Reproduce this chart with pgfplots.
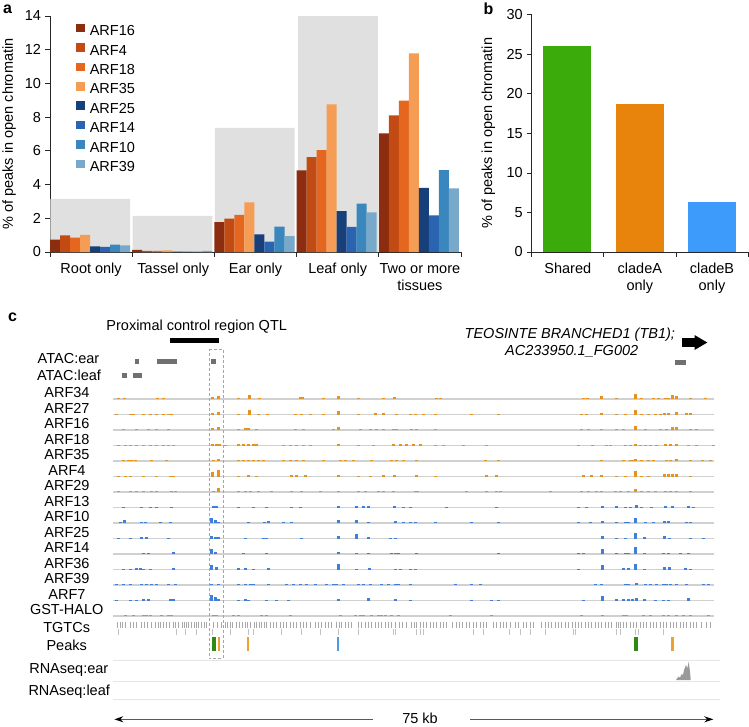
\documentclass[border=0pt]{standalone}
\usepackage{fontspec}
\setmainfont{Liberation Sans}
\usepackage{pgfplots}
\pgfplotsset{compat=1.18}
\usetikzlibrary{arrows.meta}

\definecolor{c16}{HTML}{8B2D0E}
\definecolor{c4}{HTML}{C24A13}
\definecolor{c18}{HTML}{E5661F}
\definecolor{c35}{HTML}{F59D54}
\definecolor{c25}{HTML}{173F7A}
\definecolor{c14}{HTML}{2A64B0}
\definecolor{c10}{HTML}{3A87BD}
\definecolor{c39}{HTML}{78A9CB}
\definecolor{bgbox}{HTML}{E0E0E0}
\definecolor{bshared}{HTML}{3BAA0B}
\definecolor{bclA}{HTML}{E8830C}
\definecolor{bclB}{HTML}{3D9BFC}
\definecolor{torange}{HTML}{E8921E}
\definecolor{tblue}{HTML}{3D7FD9}
\definecolor{tgrey}{HTML}{9A9A9A}
\definecolor{tline}{HTML}{D0D0D0}
\definecolor{sepline}{HTML}{E6E6E6}
\definecolor{tgtc}{HTML}{A8A8A8}
\definecolor{atac}{HTML}{707070}
\definecolor{pgreen}{HTML}{2E8A10}
\definecolor{porange}{HTML}{F0A030}
\definecolor{pblue}{HTML}{4A9BE8}

\newcommand{\fs}{\fontsize{14.5}{17}\selectfont}
\newcommand{\pl}{\fontsize{16}{16}\selectfont\bfseries}

\pgfplotsset{
  barpanel/.style={
    scale only axis,
    axis x line=bottom, axis y line=left,
    axis line style={-, black!85, line width=0.8pt},
    tick style={black!85, line width=0.8pt},
    major tick length=4.5pt, tick align=outside,
    ymin=0,
    x tick label as interval,
    tick label style={font=\fs},
    /pgf/number format/assume math mode=true,
    xticklabel style={align=center, yshift=-3pt},
    yticklabel style={xshift=-1pt},
  },
  trk/.style={forget plot, draw=none, line width=3pt,
    error bars/.cd, y dir=minus, y explicit, error mark=none,
    error bar style={line width=3pt, draw=#1}},
}

\begin{document}
\begin{tikzpicture}
\useasboundingbox (0pt,0pt) rectangle (749pt,-726pt);

% ---------------- panel a ----------------
\begin{axis}[barpanel,
  at={(50pt,-252pt)}, anchor=south west,
  width=411pt, height=236pt,
  xmin=0, xmax=5, ymax=14,
  ytick={0,2,...,14},
  xtick={0,1,2,3,4,5},
  xticklabels={Root only, Tassel only, Ear only, Leaf only, Two or more\\tissues},
  ylabel={\% of peaks in open chromatin},
  every axis y label/.style={at={(axis description cs:-0.0905,0.5)}, rotate=90, anchor=base, font=\fs},
  legend style={draw=none, fill=none, at={(axis cs:0.316,13.55)}, anchor=north west,
    font=\fs, inner sep=0pt, row sep=5.9pt, column sep=5pt, nodes={inner sep=0pt, anchor=base west}},
  legend cell align=left,
  legend image code/.code={\fill[#1] (0pt,3.4pt) rectangle (8.6pt,12pt);},
]
\addplot[ybar, bar width=0.97, bar shift=0pt, fill=bgbox, draw=none, forget plot]
  coordinates {(0.489,3.15) (1.489,2.14) (2.492,7.36) (3.504,14)};

\addplot[ybar, bar width=0.1218, bar shift=0pt, fill=c16, draw=none]
  coordinates {(0.061,0.73) (1.061,0.12) (2.061,1.77) (3.061,4.84) (4.061,7.03)};
\addplot[ybar, bar width=0.1218, bar shift=0pt, fill=c4, draw=none]
  coordinates {(0.183,0.99) (1.183,0.06) (2.183,1.98) (3.183,5.63) (4.183,8.11)};
\addplot[ybar, bar width=0.1218, bar shift=0pt, fill=c18, draw=none]
  coordinates {(0.305,0.85) (1.305,0.06) (2.305,2.21) (3.305,6.04) (4.305,8.98)};
\addplot[ybar, bar width=0.1218, bar shift=0pt, fill=c35, draw=none]
  coordinates {(0.426,1.01) (1.426,0.10) (2.426,2.95) (3.426,8.76) (4.426,11.79)};
\addplot[ybar, bar width=0.1218, bar shift=0pt, fill=c25, draw=none]
  coordinates {(0.548,0.34) (1.548,0.02) (2.548,1.04) (3.548,2.43) (4.548,3.80)};
\addplot[ybar, bar width=0.1218, bar shift=0pt, fill=c14, draw=none]
  coordinates {(0.670,0.31) (1.670,0.02) (2.670,0.62) (3.670,1.49) (4.670,2.18)};
\addplot[ybar, bar width=0.1218, bar shift=0pt, fill=c10, draw=none]
  coordinates {(0.792,0.44) (1.792,0.02) (2.792,1.51) (3.792,2.87) (4.792,4.85)};
\addplot[ybar, bar width=0.1218, bar shift=0pt, fill=c39, draw=none]
  coordinates {(0.914,0.40) (1.914,0.06) (2.914,0.94) (3.914,2.35) (4.914,3.78)};
\legend{ARF16, ARF4, ARF18, ARF35, ARF25, ARF14, ARF10, ARF39}
\end{axis}

% ---------------- panel b ----------------
\begin{axis}[barpanel,
  at={(531.7pt,-252pt)}, anchor=south west,
  width=216.3pt, height=237.3pt,
  xmin=0, xmax=3, ymax=30,
  ytick={0,5,...,30},
  xtick={0,1,2,3},
  xticklabels={Shared, cladeA\\only, cladeB\\only},
  ylabel={\% of peaks in open chromatin},
  every axis y label/.style={at={(axis description cs:-0.1826,0.5)}, rotate=90, anchor=base, font=\fs},
]
\addplot[ybar, bar width=0.674, bar shift=0pt, fill=bshared, draw=none] coordinates {(0.49,26.0)};
\addplot[ybar, bar width=0.674, bar shift=0pt, fill=bclA, draw=none] coordinates {(1.50,18.75)};
\addplot[ybar, bar width=0.674, bar shift=0pt, fill=bclB, draw=none] coordinates {(2.50,6.28)};
\end{axis}

% ---------------- panel c (pixel coordinates) ----------------
\begin{axis}[
  at={(0pt,0pt)}, anchor=north west,
  scale only axis, width=749pt, height=726pt,
  xmin=0, xmax=749, ymin=0, ymax=726, y dir=reverse,
  hide axis, clip=false,
]
% panel letters
\node[font=\pl, anchor=base west] at (axis cs:-0.5,13.3) {a};
\node[font=\pl, anchor=base west] at (axis cs:480,14) {b};
\node[font=\pl, anchor=base west] at (axis cs:4.5,321.7) {c};

% header texts
\node[font=\fs, anchor=base] at (axis cs:196.7,330) {Proximal control region QTL};
\node[font=\fs\itshape, anchor=base east] at (axis cs:678.5,338.3) {TEOSINTE BRANCHED1 (TB1);};
\node[font=\fs\itshape, anchor=base] at (axis cs:571.7,355) {AC233950.1\_FG002};

% QTL bar and gene arrow
\addplot[black, line width=5pt, forget plot] coordinates {(170,340.7) (219,340.7)};
\addplot[black, line width=9pt, -{Triangle[width=14pt,length=13pt]}, forget plot]
  coordinates {(682,342.5) (707.5,342.5)};

% track labels
\node[font=\fs, anchor=base] at (axis cs:68.5,363.5) {ATAC:ear};
\node[font=\fs, anchor=base] at (axis cs:69,380.2) {ATAC:leaf};
\node[font=\fs, anchor=base] at (axis cs:67,397.5) {ARF34};
\node[font=\fs, anchor=base] at (axis cs:67,413) {ARF27};
\node[font=\fs, anchor=base] at (axis cs:67,428.5) {ARF16};
\node[font=\fs, anchor=base] at (axis cs:67,444) {ARF18};
\node[font=\fs, anchor=base] at (axis cs:67,459.5) {ARF35};
\node[font=\fs, anchor=base] at (axis cs:67,475) {ARF4};
\node[font=\fs, anchor=base] at (axis cs:67,490.5) {ARF29};
\node[font=\fs, anchor=base] at (axis cs:67,506) {ARF13};
\node[font=\fs, anchor=base] at (axis cs:67,521.5) {ARF10};
\node[font=\fs, anchor=base] at (axis cs:67,537) {ARF25};
\node[font=\fs, anchor=base] at (axis cs:67,552.5) {ARF14};
\node[font=\fs, anchor=base] at (axis cs:67,568) {ARF36};
\node[font=\fs, anchor=base] at (axis cs:67,583.5) {ARF39};
\node[font=\fs, anchor=base] at (axis cs:67,599) {ARF7};
\node[font=\fs, anchor=base] at (axis cs:66.7,614.5) {GST-HALO};
\node[font=\fs, anchor=base] at (axis cs:66.7,632.9) {TGTCs};
\node[font=\fs, anchor=base] at (axis cs:66.7,650.9) {Peaks};
\node[font=\fs, anchor=base] at (axis cs:68.8,673.5) {RNAseq:ear};
\node[font=\fs, anchor=base] at (axis cs:69.2,695.5) {RNAseq:leaf};

% ATAC blocks
\addplot[atac, line width=5pt, unbounded coords=jump, forget plot] coordinates {
  (135.3,361.8) (139.3,361.8) (140,nan) (157.3,361.8) (176.7,361.8) (180,nan)
  (211.3,361.8) (216,361.8) (220,nan) (675,362.2) (686,362.2)};
\addplot[atac, line width=5pt, unbounded coords=jump, forget plot] coordinates {
  (122,375.2) (127.3,375.2) (130,nan) (132.7,375.2) (142.3,375.2)};

% track baselines
\addplot[tline, line width=1.2pt, unbounded coords=jump, forget plot] coordinates {
  (113,399) (714,399) (720,nan) (113,414.5) (714,414.5) (720,nan)
  (113,430) (714,430) (720,nan) (113,445.5) (714,445.5) (720,nan)
  (113,461) (714,461) (720,nan) (113,476.5) (714,476.5) (720,nan)
  (113,492) (714,492) (720,nan) (113,507.5) (714,507.5) (720,nan)
  (113,523) (714,523) (720,nan) (113,538.5) (714,538.5) (720,nan)
  (113,554) (714,554) (720,nan) (113,569.5) (714,569.5) (720,nan)
  (113,585) (714,585) (720,nan) (113,600.5) (714,600.5) (720,nan)
  (113,616) (714,616)};

% ARF34
\addplot[trk=torange] coordinates {(118,399) -= (0,1) (124,399) -= (0,1) (157,399) -= (0,1) (163,399) -= (0,1)
 (212.7,399) -= (0,2) (218.3,399) -= (0,3) (238.3,399) -= (0,1.5) (249,399) -= (0,4) (259,399) -= (0,1)
 (300,399) -= (0,2) (302.7,399) -= (0,2) (323,399) -= (0,1) (338.3,399) -= (0,3) (358,399) -= (0,1)
 (383,399) -= (0,1) (394,399) -= (0,2.5) (436.7,399) -= (0,1) (440,399) -= (0,1) (583,399) -= (0,1)
 (587,399) -= (0,1) (601,399) -= (0,3) (616,399) -= (0,1.5) (635.7,399) -= (0,5) (641,399) -= (0,1)
 (653,399) -= (0,1) (658,399) -= (0,1) (665,399) -= (0,1) (668,399) -= (0,1) (672.7,399) -= (0,4.5)
 (676,399) -= (0,3) (690,399) -= (0,1) (705.7,399) -= (0,1.5)};
% ARF27
\addplot[trk=torange] coordinates {(116.7,414.5) -= (0,1) (130,414.5) -= (0,1) (133,414.5) -= (0,1)
 (143,414.5) -= (0,1) (150,414.5) -= (0,1) (156.7,414.5) -= (0,1) (163,414.5) -= (0,1) (168,414.5) -= (0,1)
 (171.7,414.5) -= (0,1) (212.7,414.5) -= (0,2) (218.3,414.5) -= (0,2.5) (238,414.5) -= (0,1)
 (249,414.5) -= (0,4.5) (258,414.5) -= (0,1) (267,414.5) -= (0,1) (295,414.5) -= (0,1) (301.7,414.5) -= (0,1)
 (310,414.5) -= (0,1) (323,414.5) -= (0,1) (338,414.5) -= (0,3.5) (358,414.5) -= (0,1) (375,414.5) -= (0,1.5)
 (383,414.5) -= (0,1.5) (396,414.5) -= (0,1) (410,414.5) -= (0,1) (415,414.5) -= (0,1) (423,414.5) -= (0,1)
 (435,414.5) -= (0,1) (471.7,414.5) -= (0,1) (498,414.5) -= (0,1) (581.7,414.5) -= (0,1) (586.7,414.5) -= (0,1)
 (601.7,414.5) -= (0,1.5) (616.7,414.5) -= (0,1) (625,414.5) -= (0,1) (635.7,414.5) -= (0,5)
 (641.7,414.5) -= (0,1) (648,414.5) -= (0,1) (655,414.5) -= (0,1) (660,414.5) -= (0,1) (664,414.5) -= (0,2)
 (668,414.5) -= (0,2) (676,414.5) -= (0,3) (686,414.5) -= (0,2) (690,414.5) -= (0,2)};
% ARF16
\addplot[trk=torange] coordinates {(123,430) -= (0,1) (136.7,430) -= (0,1) (148,430) -= (0,1) (156.7,430) -= (0,1)
 (168,430) -= (0,1) (212.7,430) -= (0,2) (218.3,430) -= (0,3.5) (238,430) -= (0,1) (245,430) -= (0,2.5)
 (248.3,430) -= (0,2.5) (256.7,430) -= (0,1) (295,430) -= (0,1) (303,430) -= (0,1) (333,430) -= (0,1)
 (338.3,430) -= (0,3.5) (360,430) -= (0,1) (370,430) -= (0,1) (376.7,430) -= (0,1) (383.3,430) -= (0,1)
 (393,430) -= (0,1.5) (396.7,430) -= (0,1.5) (411.7,430) -= (0,1.5) (416.7,430) -= (0,1.5) (435,430) -= (0,1)
 (581.7,430) -= (0,1) (588,430) -= (0,1) (601.7,430) -= (0,1.5) (616.7,430) -= (0,1) (623,430) -= (0,1)
 (635.7,430) -= (0,4) (645,430) -= (0,1.5) (660,430) -= (0,1) (666.7,430) -= (0,1) (672.3,430) -= (0,3)
 (676,430) -= (0,3) (690,430) -= (0,1) (696.7,430) -= (0,1)};
% ARF18
\addplot[trk=torange] coordinates {(118,445.5) -= (0,1) (125,445.5) -= (0,1) (130,445.5) -= (0,1)
 (136.7,445.5) -= (0,1) (143,445.5) -= (0,1) (150,445.5) -= (0,1) (156.7,445.5) -= (0,1) (163,445.5) -= (0,1)
 (168,445.5) -= (0,1) (173,445.5) -= (0,1) (212.7,445.5) -= (0,1.5) (216,445.5) -= (0,1.5) (219.3,445.5) -= (0,1.5)
 (225,445.5) -= (0,1) (238,445.5) -= (0,1.5) (243,445.5) -= (0,1.5) (248,445.5) -= (0,1.5) (253,445.5) -= (0,1.5)
 (256.7,445.5) -= (0,1.5) (283,445.5) -= (0,1) (290,445.5) -= (0,1) (296.7,445.5) -= (0,1) (303,445.5) -= (0,1)
 (310,445.5) -= (0,1) (338,445.5) -= (0,1.5) (358,445.5) -= (0,1) (373,445.5) -= (0,1) (393,445.5) -= (0,1.5)
 (400,445.5) -= (0,1.5) (406.7,445.5) -= (0,1.5) (413,445.5) -= (0,1.5) (420,445.5) -= (0,1.5) (435,445.5) -= (0,1)
 (443,445.5) -= (0,1) (463,445.5) -= (0,1) (486.7,445.5) -= (0,1) (578,445.5) -= (0,1) (592,445.5) -= (0,1)
 (606.7,445.5) -= (0,1) (610,445.5) -= (0,1) (625,445.5) -= (0,1) (630,445.5) -= (0,1) (635.7,445.5) -= (0,2)
 (640,445.5) -= (0,1) (645,445.5) -= (0,1) (650,445.5) -= (0,1) (656.7,445.5) -= (0,1) (665,445.5) -= (0,1.5)
 (670,445.5) -= (0,1.5) (676.7,445.5) -= (0,1.5) (688,445.5) -= (0,1) (696.7,445.5) -= (0,1) (713,445.5) -= (0,1)};
% ARF35
\addplot[trk=torange] coordinates {(123,461) -= (0,1) (128,461) -= (0,1.5) (131.7,461) -= (0,1.5) (135,461) -= (0,1.5)
 (151.7,461) -= (0,1) (166.7,461) -= (0,1) (213.3,461) -= (0,1.5) (218.3,461) -= (0,2.5) (238,461) -= (0,1.5)
 (243,461) -= (0,1.5) (248,461) -= (0,1.5) (253,461) -= (0,1.5) (258,461) -= (0,1.5) (263,461) -= (0,1.5)
 (283,461) -= (0,1) (290,461) -= (0,1) (296.7,461) -= (0,1) (303.3,461) -= (0,1.5) (323,461) -= (0,1)
 (340,461) -= (0,1) (345,461) -= (0,1) (353.3,461) -= (0,1) (371.7,461) -= (0,1) (391.7,461) -= (0,1.5)
 (396.7,461) -= (0,1.5) (403,461) -= (0,1.5) (416.7,461) -= (0,1.5) (485,461) -= (0,1) (498,461) -= (0,1)
 (601.7,461) -= (0,0.7) (623,461) -= (0,1) (630,461) -= (0,1) (633,461) -= (0,1) (635.7,461) -= (0,2)
 (641.7,461) -= (0,1) (648,461) -= (0,1) (653,461) -= (0,1) (666.7,461) -= (0,1) (670,461) -= (0,1)
 (676,461) -= (0,2.5) (690,461) -= (0,1.5) (702.7,461) -= (0,1.5) (710,461) -= (0,1)};
% ARF4
\addplot[trk=torange] coordinates {(118,476.5) -= (0,1) (125,476.5) -= (0,1) (130,476.5) -= (0,1) (143,476.5) -= (0,1)
 (156.7,476.5) -= (0,1) (170,476.5) -= (0,1) (173,476.5) -= (0,1) (212.7,476.5) -= (0,5) (218.3,476.5) -= (0,6.5)
 (238.3,476.5) -= (0,1) (248.3,476.5) -= (0,2) (256.7,476.5) -= (0,1) (291.7,476.5) -= (0,1.5) (296.7,476.5) -= (0,1.5)
 (305,476.5) -= (0,1.5) (338.3,476.5) -= (0,1.5) (358,476.5) -= (0,1) (370,476.5) -= (0,1) (383.3,476.5) -= (0,1.5)
 (394,476.5) -= (0,1.5) (416,476.5) -= (0,1.5) (435,476.5) -= (0,1) (486.7,476.5) -= (0,1.5) (496.7,476.5) -= (0,1.5)
 (583,476.5) -= (0,1.5) (591.7,476.5) -= (0,1.5) (601.7,476.5) -= (0,1.5) (616.7,476.5) -= (0,1) (625,476.5) -= (0,1)
 (635.7,476.5) -= (0,6) (641.7,476.5) -= (0,1) (648,476.5) -= (0,1) (664.3,476.5) -= (0,2.5) (668.3,476.5) -= (0,2.5)
 (672.7,476.5) -= (0,2.5) (676,476.5) -= (0,2.5) (690,476.5) -= (0,1)};
% ARF29
\addplot[trk=torange] coordinates {(118,492) -= (0,1) (130,492) -= (0,1) (136.7,492) -= (0,1) (143,492) -= (0,1)
 (151.7,492) -= (0,1) (156.7,492) -= (0,1) (171.7,492) -= (0,1.5) (175,492) -= (0,1.5) (213.3,492) -= (0,1.5)
 (218.3,492) -= (0,4) (238.3,492) -= (0,1.5) (245,492) -= (0,1.5) (250,492) -= (0,1.5) (258.3,492) -= (0,1.5)
 (271.7,492) -= (0,1) (291.7,492) -= (0,1.5) (301.7,492) -= (0,1.5) (320,492) -= (0,1) (338.3,492) -= (0,1)
 (358,492) -= (0,1) (365,492) -= (0,1) (378,492) -= (0,1) (383.3,492) -= (0,1) (393.3,492) -= (0,1)
 (415,492) -= (0,1.5) (417.3,492) -= (0,1.5) (466.7,492) -= (0,1) (486.7,492) -= (0,1) (496.7,492) -= (0,1)
 (500,492) -= (0,1) (550,492) -= (0,0.7) (581.7,492) -= (0,1) (588,492) -= (0,1) (596.7,492) -= (0,1)
 (601.7,492) -= (0,1) (615,492) -= (0,1.5) (620,492) -= (0,1.5) (628.3,492) -= (0,1.5) (635.7,492) -= (0,3.5)
 (641.7,492) -= (0,1.5) (648,492) -= (0,1.5) (655,492) -= (0,1.5) (665,492) -= (0,1.5) (670,492) -= (0,1.5)
 (676.7,492) -= (0,1.5) (690,492) -= (0,1)};
% ARF13
\addplot[trk=tblue] coordinates {(123.3,507.5) -= (0,1) (141.7,507.5) -= (0,1) (150,507.5) -= (0,1) (156.7,507.5) -= (0,1)
 (171.7,507.5) -= (0,1) (213.3,507.5) -= (0,2) (216.7,507.5) -= (0,1.5) (238.3,507.5) -= (0,1) (253.3,507.5) -= (0,1)
 (266.7,507.5) -= (0,1) (291.7,507.5) -= (0,1) (300,507.5) -= (0,1) (338.3,507.5) -= (0,1.5) (356.7,507.5) -= (0,2)
 (363.3,507.5) -= (0,1.5) (368.3,507.5) -= (0,1.5) (394,507.5) -= (0,1.5) (403.3,507.5) -= (0,1) (410,507.5) -= (0,1)
 (446.7,507.5) -= (0,0.7) (496.7,507.5) -= (0,1) (578.3,507.5) -= (0,1) (586.7,507.5) -= (0,1) (602.3,507.5) -= (0,1.5)
 (616.7,507.5) -= (0,1.5) (625,507.5) -= (0,1) (630,507.5) -= (0,1) (636,507.5) -= (0,2.5) (641.7,507.5) -= (0,1)
 (651.7,507.5) -= (0,1) (665,507.5) -= (0,1.5) (672.7,507.5) -= (0,1.5) (688.3,507.5) -= (0,1.5) (693.3,507.5) -= (0,1)};
% ARF10
\addplot[trk=tblue] coordinates {(120,523) -= (0,1) (124,523) -= (0,3) (141.7,523) -= (0,1.5) (145,523) -= (0,1.5)
 (160,523) -= (0,1) (170,523) -= (0,1) (211.7,523) -= (0,5) (215,523) -= (0,3) (218.3,523) -= (0,1.5)
 (248.3,523) -= (0,1) (264,523) -= (0,1.5) (268.3,523) -= (0,2.5) (283.3,523) -= (0,1) (291.7,523) -= (0,1)
 (338.3,523) -= (0,3) (356.7,523) -= (0,3) (368.3,523) -= (0,1.5) (395,523) -= (0,2) (403.3,523) -= (0,1)
 (410,523) -= (0,1) (415,523) -= (0,1) (435,523) -= (0,1) (471.7,523) -= (0,1) (498.3,523) -= (0,1)
 (578.3,523) -= (0,1) (590,523) -= (0,1) (602.3,523) -= (0,2) (616.7,523) -= (0,1.5) (625,523) -= (0,1.5)
 (628.3,523) -= (0,1.5) (635.7,523) -= (0,5) (645,523) -= (0,1) (653.3,523) -= (0,1) (664.3,523) -= (0,2.5)
 (668.3,523) -= (0,2) (686.7,523) -= (0,1.5) (690,523) -= (0,1.5)};
% ARF25
\addplot[trk=tblue] coordinates {(118.3,538.5) -= (0,1) (130,538.5) -= (0,1) (141.7,538.5) -= (0,1.5) (146.7,538.5) -= (0,1.5)
 (168.3,538.5) -= (0,1) (211.7,538.5) -= (0,2.5) (215,538.5) -= (0,2) (218.3,538.5) -= (0,2) (245,538.5) -= (0,1)
 (263.3,538.5) -= (0,1) (266.7,538.5) -= (0,1) (301.7,538.5) -= (0,1) (338.3,538.5) -= (0,2.5) (356.7,538.5) -= (0,4.5)
 (368.3,538.5) -= (0,1.5) (390,538.5) -= (0,1) (395,538.5) -= (0,1) (602.3,538.5) -= (0,3) (616.7,538.5) -= (0,1)
 (625,538.5) -= (0,1) (635.7,538.5) -= (0,5.5) (644.3,538.5) -= (0,1.5) (664.3,538.5) -= (0,2.5) (669,538.5) -= (0,1)
 (690,538.5) -= (0,1) (703.3,538.5) -= (0,1)};
% ARF14
\addplot[trk=tblue] coordinates {(143.3,554) -= (0,1.5) (148.3,554) -= (0,1.5) (173.3,554) -= (0,2) (211.7,554) -= (0,5)
 (215,554) -= (0,2) (243.3,554) -= (0,1) (266.7,554) -= (0,1.5) (338.3,554) -= (0,2.5) (356.7,554) -= (0,1)
 (368.3,554) -= (0,1) (391.7,554) -= (0,1.5) (395,554) -= (0,1.5) (398.3,554) -= (0,1.5) (416.7,554) -= (0,1)
 (498.3,554) -= (0,1) (578.3,554) -= (0,1) (583.3,554) -= (0,1) (602.3,554) -= (0,5.5) (616.7,554) -= (0,1.5)
 (625,554) -= (0,1.5) (628.3,554) -= (0,1.5) (635.7,554) -= (0,7) (644.3,554) -= (0,1.5) (663.3,554) -= (0,1)
 (668.3,554) -= (0,1) (680,554) -= (0,1) (688.3,554) -= (0,1)};
% ARF36
\addplot[trk=tblue] coordinates {(123.3,569.5) -= (0,1) (130,569.5) -= (0,1) (136.7,569.5) -= (0,1.5) (140,569.5) -= (0,1.5)
 (143.3,569.5) -= (0,1) (150,569.5) -= (0,1) (173.3,569.5) -= (0,1.5) (211.7,569.5) -= (0,4.5) (216,569.5) -= (0,2.5)
 (238.3,569.5) -= (0,1.5) (245,569.5) -= (0,1.5) (253.3,569.5) -= (0,1) (268.3,569.5) -= (0,1.5) (338.3,569.5) -= (0,6)
 (356.7,569.5) -= (0,1) (369.3,569.5) -= (0,1.5) (395,569.5) -= (0,1) (400,569.5) -= (0,1) (410,569.5) -= (0,1)
 (415,569.5) -= (0,1) (578.3,569.5) -= (0,1) (602.3,569.5) -= (0,5) (623.3,569.5) -= (0,1.5) (628.3,569.5) -= (0,1.5)
 (635.7,569.5) -= (0,5.5) (644.3,569.5) -= (0,1) (664.3,569.5) -= (0,2.5) (669,569.5) -= (0,3) (685,569.5) -= (0,2)
 (690,569.5) -= (0,1)};
% ARF39
\addplot[trk=tblue] coordinates {(116.7,585) -= (0,1) (123.3,585) -= (0,1) (130,585) -= (0,1) (141.7,585) -= (0,1)
 (146.7,585) -= (0,1) (151.7,585) -= (0,1) (156.7,585) -= (0,1) (168.3,585) -= (0,1) (175,585) -= (0,1)
 (211.7,585) -= (0,1.5) (218.3,585) -= (0,1.5) (238.3,585) -= (0,1) (245,585) -= (0,1) (250,585) -= (0,1)
 (253.3,585) -= (0,1) (268.3,585) -= (0,1.5) (286.7,585) -= (0,1) (293.3,585) -= (0,1) (300,585) -= (0,1)
 (306.7,585) -= (0,1) (315,585) -= (0,1) (326.7,585) -= (0,1) (333.3,585) -= (0,1) (336.7,585) -= (0,1)
 (343.3,585) -= (0,1) (358.3,585) -= (0,1) (363.3,585) -= (0,1) (370,585) -= (0,1) (381.7,585) -= (0,1)
 (388.3,585) -= (0,1) (395,585) -= (0,1) (398.3,585) -= (0,1) (410,585) -= (0,1) (455,585) -= (0,1)
 (471.7,585) -= (0,1) (480,585) -= (0,1) (595,585) -= (0,1) (601.7,585) -= (0,1) (625,585) -= (0,1)
 (628.3,585) -= (0,1) (636,585) -= (0,2.5) (645,585) -= (0,1) (650,585) -= (0,1) (656.7,585) -= (0,1)
 (663.3,585) -= (0,1.5) (666.7,585) -= (0,1.5) (670,585) -= (0,1.5) (676.7,585) -= (0,1) (686.7,585) -= (0,1.5)
 (703.3,585) -= (0,1) (708.3,585) -= (0,1)};
% ARF7
\addplot[trk=tblue] coordinates {(116.7,600.5) -= (0,1) (130,600.5) -= (0,1) (136.7,600.5) -= (0,1) (143.3,600.5) -= (0,2)
 (148.3,600.5) -= (0,2) (170,600.5) -= (0,1.5) (173.3,600.5) -= (0,1.5) (211.7,600.5) -= (0,5.5) (215,600.5) -= (0,4)
 (218.3,600.5) -= (0,1.5) (238.3,600.5) -= (0,1) (245,600.5) -= (0,1.5) (248.3,600.5) -= (0,1) (266.7,600.5) -= (0,1)
 (276.7,600.5) -= (0,1) (288.3,600.5) -= (0,1) (338.3,600.5) -= (0,2) (368.3,600.5) -= (0,2.5) (395,600.5) -= (0,2)
 (410,600.5) -= (0,1) (471.7,600.5) -= (0,1) (491.7,600.5) -= (0,1) (498.3,600.5) -= (0,1) (583.3,600.5) -= (0,1)
 (602.3,600.5) -= (0,4.5) (616,600.5) -= (0,2) (623.3,600.5) -= (0,1.5) (628.3,600.5) -= (0,1.5) (632.3,600.5) -= (0,2)
 (636,600.5) -= (0,2.5) (644.3,600.5) -= (0,1.5) (655,600.5) -= (0,1) (663.3,600.5) -= (0,1) (668.3,600.5) -= (0,1)
 (688.3,600.5) -= (0,2.5)};
% GST-HALO
\addplot[trk=tgrey] coordinates {(125,616) -= (0,1) (133.3,616) -= (0,1) (143.3,616) -= (0,1) (146.7,616) -= (0,1)
 (150,616) -= (0,1) (161.7,616) -= (0,1) (168.3,616) -= (0,1) (171.7,616) -= (0,1) (213.3,616) -= (0,1)
 (216.7,616) -= (0,1) (233.3,616) -= (0,1) (238.3,616) -= (0,1) (261.7,616) -= (0,1) (266.7,616) -= (0,1)
 (290,616) -= (0,1) (340,616) -= (0,1) (355,616) -= (0,1) (360,616) -= (0,1) (363.3,616) -= (0,1)
 (371.7,616) -= (0,1) (378.3,616) -= (0,1) (381.7,616) -= (0,1) (385,616) -= (0,1) (391.7,616) -= (0,1)
 (398.3,616) -= (0,1) (450,616) -= (0,1) (491.7,616) -= (0,1) (581.7,616) -= (0,1) (602.7,616) -= (0,1)
 (623.3,616) -= (0,1.5) (626.7,616) -= (0,1.5) (643.3,616) -= (0,1) (650,616) -= (0,1) (663.3,616) -= (0,1)
 (668.3,616) -= (0,1) (676.7,616) -= (0,1) (683.3,616) -= (0,1) (690,616) -= (0,1) (708.3,616) -= (0,1)};

% TGTC motif ticks
\addplot[only marks, mark=|, mark size=3pt, mark options={line width=0.6pt, draw=tgtc}, forget plot] coordinates {
 (117.3,624.7) (120,624.7) (122.7,624.7) (125.3,624.7) (130,624.7) (133.3,624.7) (136.7,624.7) (141.7,624.7)
 (144.3,624.7) (147.7,624.7) (151.7,624.7) (155.7,624.7) (158.3,624.7) (160.7,624.7) (163.3,624.7) (166,624.7)
 (169.3,624.7) (173.3,624.7) (175.7,624.7) (178.3,624.7) (182.7,624.7) (184.7,624.7) (186.7,624.7) (188.7,624.7)
 (191.3,624.7) (194,624.7) (196,624.7) (198.3,624.7) (201.7,624.7) (204,624.7) (206.7,624.7) (213.3,624.7)
 (217.3,624.7) (221,624.7) (225,624.7) (227.3,624.7) (230,624.7) (232.7,624.7) (236,624.7) (239.3,624.7)
 (242.7,624.7) (245,624.7) (247.3,624.7) (250,624.7) (254,624.7) (256.7,624.7) (259.3,624.7) (261.7,624.7)
 (264,624.7) (266.7,624.7) (270,624.7) (273.3,624.7) (276.7,624.7) (280,624.7) (283.3,624.7) (286.7,624.7)
 (290,624.7) (293.3,624.7) (296.7,624.7) (300,624.7) (303.3,624.7) (306.7,624.7) (310,624.7) (315,624.7)
 (318.3,624.7) (321.7,624.7) (325,624.7) (328.3,624.7) (331.7,624.7) (336.7,624.7) (339.3,624.7) (341.7,624.7)
 (345,624.7) (348.3,624.7) (351.7,624.7) (358.3,624.7) (361.7,624.7) (365,624.7) (368.3,624.7) (371.7,624.7)
 (375,624.7) (378.3,624.7) (381.7,624.7) (385,624.7) (388.3,624.7) (391.7,624.7) (395,624.7) (399.3,624.7)
 (402.7,624.7) (406.7,624.7) (411.7,624.7) (414,624.7) (416.7,624.7) (420,624.7) (423.3,624.7) (426.7,624.7)
 (430,624.7) (433.3,624.7) (436.7,624.7) (440,624.7) (443.3,624.7) (446.7,624.7) (452.7,624.7) (456,624.7)
 (459.3,624.7) (462.7,624.7) (466,624.7) (469.3,624.7) (473.3,624.7) (476.7,624.7) (480,624.7) (483.3,624.7)
 (486.7,624.7) (493.3,624.7) (496.7,624.7) (500,624.7) (503.3,624.7) (506.7,624.7) (510,624.7) (515,624.7)
 (518.3,624.7) (523.3,624.7) (526.7,624.7) (530,624.7) (533.3,624.7) (541.7,624.7) (545,624.7) (548.3,624.7)
 (551.7,624.7) (555,624.7) (558.3,624.7) (561.7,624.7) (565,624.7) (568.3,624.7) (572.7,624.7) (575,624.7)
 (578.3,624.7) (581.7,624.7) (585,624.7) (588.3,624.7) (591.7,624.7) (595,624.7) (598.3,624.7) (601.7,624.7)
 (605,624.7) (608.3,624.7) (611.7,624.7) (616,624.7) (618.3,624.7) (620.7,624.7) (623.3,624.7) (626.7,624.7)
 (630,624.7) (633.3,624.7) (636.7,624.7) (640,624.7) (643.3,624.7) (646.7,624.7) (650,624.7) (653.3,624.7)
 (656.7,624.7) (660,624.7) (663.3,624.7) (666.7,624.7) (670,624.7) (673.3,624.7) (676.7,624.7) (680,624.7)
 (683.3,624.7) (686.7,624.7) (690,624.7) (693.3,624.7) (696.7,624.7) (701.7,624.7) (706.7,624.7) (710,624.7)};
\addplot[only marks, mark=|, mark size=3pt, mark options={line width=0.6pt, draw=tgtc!70}, forget plot] coordinates {
 (118.3,631.5) (176,631.5) (185,631.5) (196,631.5) (212.7,631.5) (230,631.5) (248.3,631.5) (253.3,631.5)
 (281.7,631.5) (301.7,631.5) (320,631.5) (338.3,631.5) (358.3,631.5) (393.3,631.5) (395,631.5) (416.7,631.5)
 (420,631.5) (423.3,631.5) (473.3,631.5) (483.3,631.5) (509.3,631.5) (520,631.5) (530,631.5) (545,631.5)
 (573.3,631.5) (575,631.5) (616.7,631.5) (620,631.5) (635,631.5) (638.3,631.5) (663.3,631.5)};

% peak calls
\addplot[pgreen, line width=3.7pt, forget plot] coordinates {(214.1,637) (214.1,650.7)};
\addplot[porange, line width=1.8pt, forget plot] coordinates {(218.9,637) (218.9,650.7)};
\addplot[porange, line width=1.8pt, forget plot] coordinates {(248.3,637) (248.3,650.7)};
\addplot[pblue, line width=1.8pt, forget plot] coordinates {(338.3,637) (338.3,650.7)};
\addplot[pgreen, line width=3.2pt, forget plot] coordinates {(635.9,637) (635.9,650.7)};
\addplot[porange, line width=2.2pt, forget plot] coordinates {(672.4,637) (672.4,650.7)};

% RNA-seq separators and ear signal
\addplot[sepline, line width=0.8pt, unbounded coords=jump, forget plot] coordinates {
  (113,660) (720,660) (725,nan) (113,681) (720,681) (725,nan) (113,699) (720,699)};
\addplot[fill=tgrey, draw=none, forget plot] coordinates {
  (676,680) (678.3,676.7) (680,677.5) (681.7,674) (683,675) (684,670) (686,665) (687.3,668.3)
  (688.7,661.7) (690,671.7) (690.7,680)};

% dashed highlight box
\addplot[black!35, line width=0.8pt, dash pattern=on 3pt off 2pt, forget plot] coordinates {
  (209,349) (223,349) (223,658.3) (209,658.3) (209,349)};

% scale bar
\addplot[black!65, line width=1.3pt, {Stealth[length=9pt,width=6pt,black]}-, forget plot]
  coordinates {(114.3,719.3) (372.7,719.3)};
\addplot[black!65, line width=1.3pt, -{Stealth[length=9pt,width=6pt,black]}, forget plot]
  coordinates {(470,719.3) (713.3,719.3)};
\node[font=\fs, anchor=base, inner sep=0.5pt] at (axis cs:420,723.5) {75 kb};
\end{axis}
\end{tikzpicture}
\end{document}
